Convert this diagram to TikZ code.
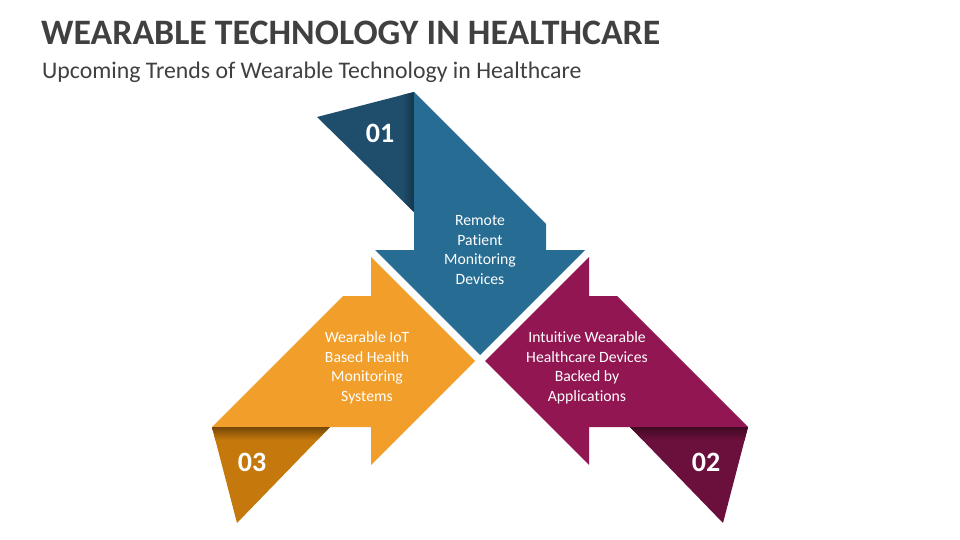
\documentclass[tikz,border=0pt]{standalone}
\usepackage{fontspec}
\setmainfont{Carlito}[Ligatures=NoCommon]
\usepackage{tikz}
\definecolor{blueA}{RGB}{39,108,146}
\definecolor{blueB}{RGB}{31,77,108}
\definecolor{orangeA}{RGB}{242,158,42}
\definecolor{orangeB}{RGB}{197,120,12}
\definecolor{purpleA}{RGB}{146,22,82}
\definecolor{purpleB}{RGB}{107,16,60}
\definecolor{titlegray}{RGB}{64,64,64}
\tikzstyle{heading} = [anchor=base west, inner sep=0pt, text=titlegray]
\tikzstyle{trend} = [text=white, align=center, inner sep=0pt,
    font=\fontsize{15.7}{19.5}\selectfont]
\tikzstyle{num} = [text=white, inner sep=0pt, font=\fontsize{28}{30}\selectfont\bfseries]

\begin{document}
\begin{tikzpicture}[x=1pt, y=-1pt]
                \useasboundingbox (0,0) rectangle (960,540);
                \node [heading, font=\fontsize{35.8}{40}\selectfont\bfseries] at (41,45) (title) {WEARABLE TECHNOLOGY IN HEALTHCARE};
                \node [heading, font=\fontsize{23.8}{28}\selectfont] at (42,78.5) (subtitle) {Upcoming Trends of Wearable Technology in Healthcare};
                % 01
                \fill [blueB] (317,117) -- (414,92) -- (414,212) -- cycle;
                \begin{scope}
                    \clip (317,117) -- (414,92) -- (414,212) -- cycle;
                    \shade [left color=blueB, right color=blueB!70!black] (402,90) rectangle (414,215);
                \end{scope}
                \fill [blueA] (414,92) -- (546,224) -- (546,250) -- (585,250) -- (480,355) -- (375,250) -- (414,250) -- cycle;
                % 03
                \fill [orangeA] (212,427) -- (343,296) -- (371,296) -- (371,257) -- (475,361) -- (371,465) -- (371,427) -- cycle;
                \fill [orangeB] (212,427) -- (330,427) -- (237,523) -- cycle;
                \begin{scope}
                    \clip (212,427) -- (330,427) -- (237,523) -- cycle;
                    \shade [top color=orangeB!60!black, bottom color=orangeB] (205,427) rectangle (335,440);
                \end{scope}
                % 02
                \fill [purpleA] (748,427) -- (617,296) -- (589,296) -- (589,257) -- (485,361) -- (589,465) -- (589,427) -- cycle;
                \fill [purpleB] (748,427) -- (630,427) -- (723,523) -- cycle;
                \begin{scope}
                    \clip (748,427) -- (630,427) -- (723,523) -- cycle;
                    \shade [top color=purpleB!60!black, bottom color=purpleB] (625,427) rectangle (755,440);
                \end{scope}
                \node [num] at (380,133) (n01) {01};
                \node [num] at (252,462) (n03) {03};
                \node [num] at (706,462) (n02) {02};
                \node [trend] at (480,250) (t01) {Remote\\Patient\\Monitoring\\Devices};
                \node [trend] at (367,368) (t03) {Wearable IoT\\Based Health\\Monitoring\\Systems};
                \node [trend] at (587,368) (t02) {Intuitive Wearable\\Healthcare Devices\\Backed by\\Applications};
            \end{tikzpicture}
\end{document}
